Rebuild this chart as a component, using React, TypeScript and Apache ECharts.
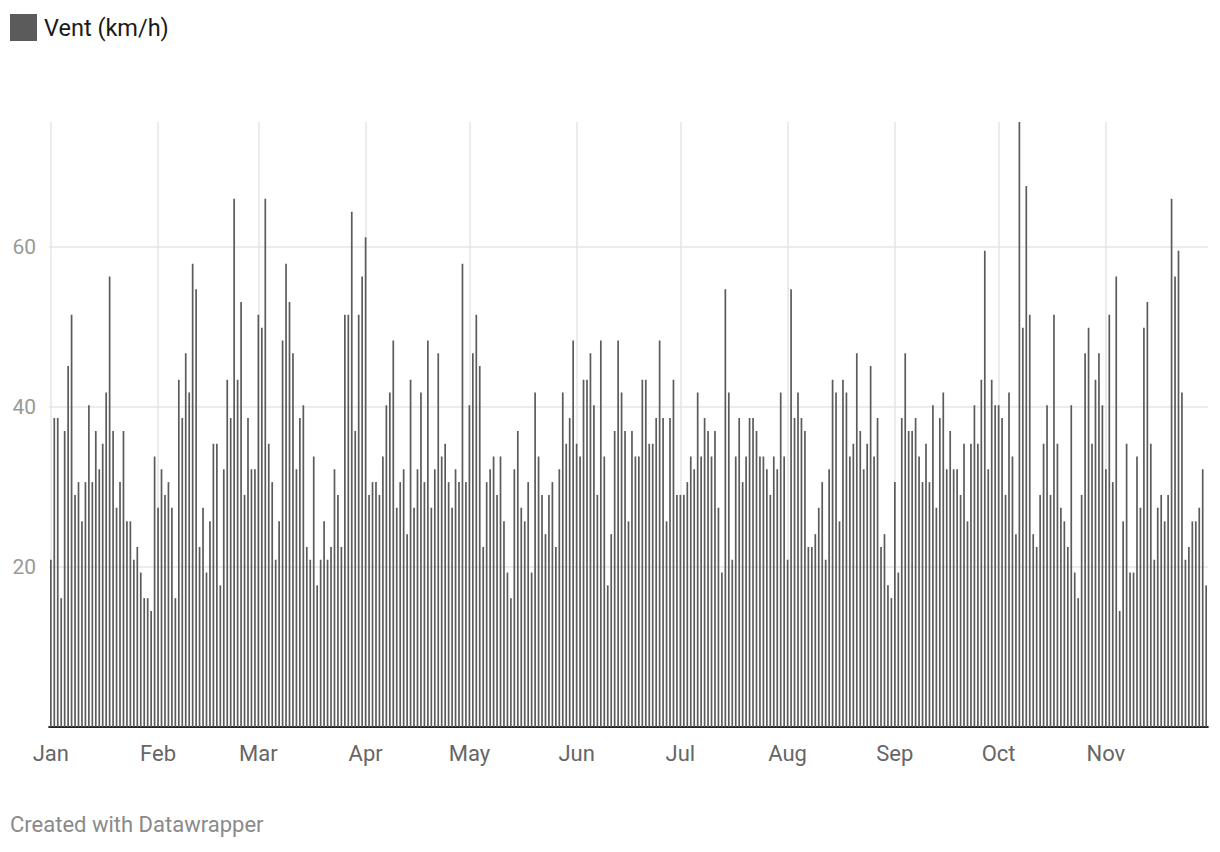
import React, { useEffect, useRef } from 'react';
import * as echarts from 'echarts';

const months = ['Jan', 'Feb', 'Mar', 'Apr', 'May', 'Jun', 'Jul', 'Aug', 'Sep', 'Oct', 'Nov'];
const daysInMonth = [31, 29, 31, 30, 31, 30, 31, 31, 30, 31, 30];
const yTickLabels = [20, 40, 60];
const seriesName = 'Vent (km/h)';
const footerText = 'Created with Datawrapper';

// daily wind (km/h), Jan 1 -> Nov 30
const windKmh = [
  // Jan
  20.9, 38.6, 38.6, 16.1, 37.0, 45.1, 51.5, 29.0, 30.6, 25.7,
  30.6, 40.2, 30.6, 37.0, 32.2, 35.4, 41.8, 56.3, 37.0, 27.4,
  30.6, 37.0, 25.7, 25.7, 20.9, 22.5, 19.3, 16.1, 16.1, 14.5,
  33.8,
  // Feb
  27.4, 32.2, 29.0, 30.6, 27.4, 16.1, 43.4, 38.6, 46.7,
  41.8, 57.9, 54.7, 22.5, 27.4, 19.3, 25.7, 35.4, 35.4, 17.7,
  32.2, 43.4, 38.6, 66.0, 43.4, 53.1, 29.0, 38.6, 32.2, 32.2,
  // Mar
  51.5,
  49.9, 66.0, 35.4, 30.6, 20.9, 25.7, 48.3, 57.9, 53.1, 46.7,
  32.2, 38.6, 40.2, 22.5, 20.9, 33.8, 17.7, 20.9, 25.7, 20.9,
  22.5, 32.2, 29.0, 22.5, 51.5, 51.5, 64.4, 37.0, 51.5, 56.3,
  // Apr
  61.2,
  29.0, 30.6, 30.6, 29.0, 33.8, 40.2, 41.8, 48.3, 27.4, 30.6,
  32.2, 24.1, 43.4, 27.4, 32.2, 41.8, 30.6, 48.3, 27.4, 32.2,
  46.7, 33.8, 35.4, 30.6, 27.4, 32.2, 30.6, 57.9, 30.6,
  // May
  40.2, 46.7,
  51.5, 45.1, 22.5, 30.6, 32.2, 33.8, 29.0, 33.8, 25.7, 19.3,
  16.1, 32.2, 37.0, 27.4, 25.7, 30.6, 19.3, 41.8, 33.8, 29.0,
  24.1, 29.0, 30.6, 22.5, 32.2, 41.8, 35.4, 38.6, 48.3,
  // Jun
  35.4, 33.8,
  43.4, 43.4, 46.7, 40.2, 29.0, 48.3, 33.8, 17.7, 24.1, 37.0,
  48.3, 41.8, 37.0, 25.7, 37.0, 33.8, 33.8, 43.4, 43.4, 35.4,
  35.4, 38.6, 48.3, 38.6, 25.7, 38.6, 43.4, 29.0,
  // Jul
  29.0, 29.0,
  30.6, 33.8, 32.2, 41.8, 33.8, 38.6, 37.0, 33.8, 37.0, 27.4,
  19.3, 54.7, 41.8, 20.9, 33.8, 38.6, 30.6, 33.8, 38.6, 38.6,
  37.0, 33.8, 33.8, 32.2, 29.0, 33.8, 32.2, 41.8, 33.8,
  // Aug
  20.9, 54.7,
  38.6, 41.8, 38.6, 37.0, 22.5, 22.5, 24.1, 27.4, 30.6, 20.9,
  32.2, 43.4, 41.8, 25.7, 43.4, 41.8, 33.8, 35.4, 46.7, 37.0,
  32.2, 35.4, 45.1, 33.8, 38.6, 22.5, 24.1, 17.7, 16.1,
  // Sep
  30.6, 19.3,
  38.6, 46.7, 37.0, 37.0, 38.6, 33.8, 30.6, 35.4, 30.6, 40.2,
  27.4, 38.6, 41.8, 32.2, 37.0, 32.2, 32.2, 29.0, 35.4, 25.7,
  35.4, 40.2, 35.4, 43.4, 59.5, 32.2, 43.4, 40.2,
  // Oct
  40.2, 38.6, 29.0,
  41.8, 33.8, 24.1, 75.6, 49.9, 67.6, 51.5, 24.1, 22.5, 29.0,
  35.4, 40.2, 29.0, 51.5, 35.4, 27.4, 25.7, 22.5, 40.2, 19.3,
  16.1, 29.0, 46.7, 49.9, 35.4, 43.4, 46.7, 40.2,
  // Nov
  32.2, 51.5, 30.6,
  56.3, 14.5, 25.7, 35.4, 19.3, 19.3, 33.8, 27.4, 49.9, 53.1,
  35.4, 20.9, 27.4, 29.0, 25.7, 29.0, 66.0, 56.3, 59.5, 41.8,
  20.9, 22.5, 25.7, 25.7, 27.4, 32.2, 17.7,
];

const categories: string[] = [];
const monthStarts = new Set<number>();
months.forEach((m, mi) => {
  for (let d = 1; d <= daysInMonth[mi]; d++) {
    if (d === 1) monthStarts.add(categories.length);
    categories.push(`${m} ${d}`);
  }
});

const FONT = 'Roboto, "Noto Sans", sans-serif';

export default function App() {
  const ref = useRef<HTMLDivElement>(null);
  useEffect(() => {
    if (!ref.current) return;
    const chart = echarts.init(ref.current, undefined, { renderer: 'svg' });
    const isStart = (i: number) => monthStarts.has(i);
    chart.setOption({
      animation: false,
      backgroundColor: '#ffffff',
      textStyle: { fontFamily: FONT },
      legend: {
        data: [seriesName],
        left: 10,
        top: 14,
        padding: 0,
        icon: 'rect',
        itemWidth: 27,
        itemHeight: 27,
        selectedMode: false,
        textStyle: { fontSize: 23.5, color: '#1a1a1a', fontFamily: FONT, padding: [0, 0, 0, 2] },
      },
      graphic: [
        {
          type: 'text',
          left: 10,
          top: 813,
          style: { text: footerText, fontSize: 22, fill: '#8a8a8a', fontFamily: FONT },
        },
      ],
      grid: {
        left: 49.1,
        right: 12.1,
        top: 122,
        bottom: 125,
        containLabel: false,
        outerBoundsMode: 'none',
      },
      xAxis: {
        type: 'category',
        data: categories,
        boundaryGap: true,
        axisLine: { show: true, lineStyle: { color: '#222', width: 2 } },
        axisTick: { show: false },
        axisLabel: {
          interval: isStart,
          formatter: (v: string) => v.split(' ')[0],
          color: '#666',
          fontSize: 22,
          margin: 15,
          fontFamily: FONT,
        },
        splitLine: {
          show: true,
          interval: isStart,
          alignWithLabel: true,
          lineStyle: { color: '#e6e6e6', width: 1.5 },
        },
      },
      yAxis: {
        type: 'value',
        min: 0,
        max: 'dataMax',
        interval: 20,
        axisLine: { show: false },
        axisTick: { show: false },
        axisLabel: {
          color: '#999',
          fontSize: 21,
          margin: 13,
          showMaxLabel: false,
          formatter: (v: number) => (yTickLabels.includes(v) ? String(v) : ''),
          fontFamily: FONT,
        },
        splitLine: {
          show: true,
          showMinLine: false,
          showMaxLine: false,
          lineStyle: { color: '#e6e6e6', width: 1.5 },
        },
      },
      series: [
        {
          name: seriesName,
          type: 'bar',
          data: windKmh,
          barWidth: 1.7,
          itemStyle: { color: '#5b5b5b' },
        },
      ],
    });
    return () => chart.dispose();
  }, []);
  return (
    <div
      ref={ref}
      style={{ position: 'absolute', left: 0, top: 0, width: 1220, height: 852, background: '#fff' }}
    />
  );
}
